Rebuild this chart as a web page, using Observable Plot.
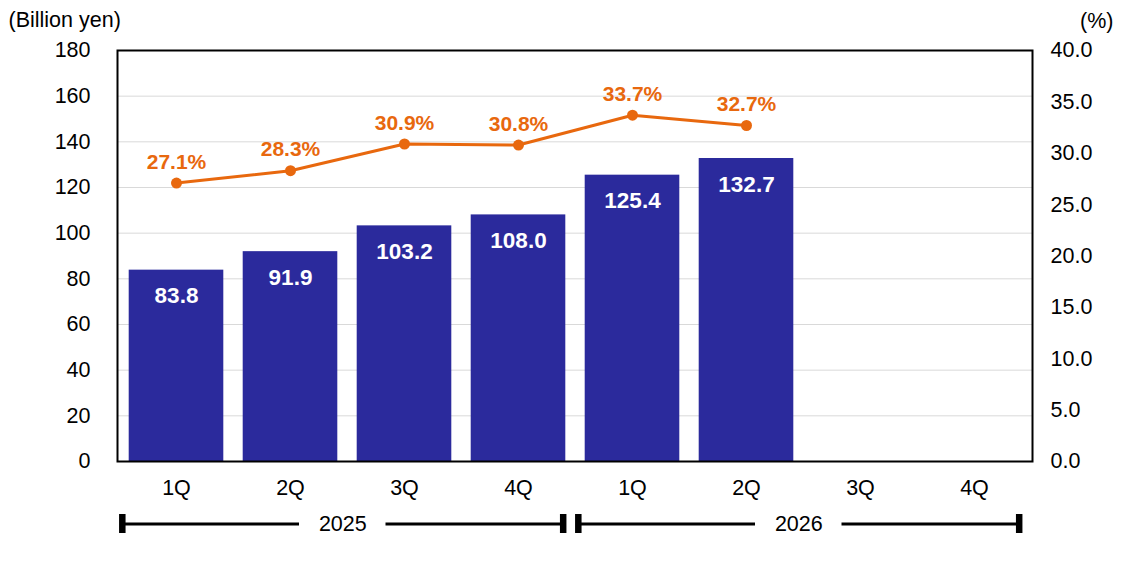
<!DOCTYPE html>
<html>
<head>
<meta charset="utf-8">
<script src="https://cdn.jsdelivr.net/npm/d3@7"></script>
<script src="https://cdn.jsdelivr.net/npm/@observablehq/plot@0.6"></script>
<style>
  html, body { margin: 0; padding: 0; background: #fff; }
  #chart svg { display: block; }
</style>
</head>
<body>
<div id="chart"></div>
<script>
// ---- data ----
const fiscalYears = ["2025", "2026"];
const quarterLabels = ["1Q", "2Q", "3Q", "4Q"];
const sales = [83.8, 91.9, 103.2, 108.0, 125.4, 132.7];          // Billion yen (bars)
const ratio = [27.1, 28.3, 30.9, 30.8, 33.7, 32.7];              // % (line)
const leftTicks = [0, 20, 40, 60, 80, 100, 120, 140, 160, 180];
const rightTicks = [0, 5, 10, 15, 20, 25, 30, 35, 40];
const leftTitle = "(Billion yen)";
const rightTitle = "(%)";

// ---- derived ----
const keys = fiscalYears.flatMap(y => quarterLabels.map(q => `${y} ${q}`));
const rows = sales.map((v, i) => ({key: keys[i], sales: v, ratio: ratio[i]}));
const leftMax = leftTicks[leftTicks.length - 1];
const rightMax = rightTicks[rightTicks.length - 1];
const k = leftMax / rightMax; // map % onto the shared y scale
const yearRows = fiscalYears.map(y => ({
  year: y,
  q1: `${y} ${quarterLabels[0]}`,
  q2: `${y} ${quarterLabels[1]}`,
  q3: `${y} ${quarterLabels[2]}`,
  q4: `${y} ${quarterLabels[3]}`
}));

const FONT = "'Liberation Sans', Arial, 'DejaVu Sans', sans-serif";
const FS = 21.5;
const BAR = "#2B2A9C";
const ORANGE = "#E8680E";
const W = 1135, ML = 117, MR = 103;
const bw = (W - ML - MR) / keys.length;

const main = Plot.plot({
  width: W,
  height: 500,
  marginLeft: ML,
  marginRight: MR,
  marginTop: 50,
  marginBottom: 39,
  style: {fontFamily: FONT, fontSize: FS + "px", color: "#000", background: "#fff"},
  x: {type: "band", domain: keys, padding: 0, axis: null},
  y: {domain: [0, leftMax], axis: null},
  marks: [
    Plot.gridY(leftTicks.filter(t => t > 0 && t < leftMax), {stroke: "#d9d9d9", strokeOpacity: 1, strokeWidth: 1}),
    Plot.barY(rows, {x: "key", y: "sales", fill: BAR, insetLeft: 9.7, insetRight: 9.7}),
    Plot.frame({stroke: "#000", strokeWidth: 2}),
    Plot.axisY({anchor: "left", ticks: leftTicks, tickSize: 0, tickPadding: 27, label: null, fontSize: FS}),
    Plot.axisY({anchor: "right", ticks: rightTicks.map(v => v * k), tickFormat: d => (d / k).toFixed(1), tickSize: 0, tickPadding: 18, label: null, fontSize: FS}),
    Plot.axisX({anchor: "bottom", tickSize: 0, tickPadding: 18, tickFormat: d => d.split(" ")[1], label: null, fontSize: FS}),
    Plot.text(rows, {x: "key", y: "sales", text: d => d.sales.toFixed(1), fill: "#fff", fontWeight: "bold", fontSize: 22.5, dy: 26, lineAnchor: "middle"}),
    Plot.line(rows, {x: "key", y: d => d.ratio * k, stroke: ORANGE, strokeWidth: 3}),
    Plot.dot(rows, {x: "key", y: d => d.ratio * k, fill: ORANGE, r: 5.5}),
    Plot.text(rows, {x: "key", y: d => d.ratio * k, text: d => d.ratio.toFixed(1) + "%", fill: ORANGE, fontWeight: "bold", fontSize: 21, dy: -21, lineAnchor: "middle"}),
    Plot.text([leftTitle], {frameAnchor: "top-left", text: d => d, dx: -109, dy: -30, textAnchor: "start", lineAnchor: "middle", fontSize: FS}),
    Plot.text([rightTitle], {frameAnchor: "top-right", text: d => d, dx: 81, dy: -29, textAnchor: "end", lineAnchor: "middle", fontSize: FS})
  ]
});

const brackets = Plot.plot({
  width: W,
  height: 61,
  marginLeft: ML,
  marginRight: MR,
  marginTop: 14,
  marginBottom: 28,
  style: {fontFamily: FONT, fontSize: FS + "px", color: "#000", background: "#fff"},
  x: {type: "band", domain: keys, padding: 0, axis: null},
  y: {domain: [0, 1], axis: null},
  marks: [
    Plot.ruleY(yearRows, {x1: "q1", x2: "q2", y: () => 0.5, stroke: "#000", strokeWidth: 3, insetLeft: 3, insetRight: 48}),
    Plot.ruleY(yearRows, {x1: "q3", x2: "q4", y: () => 0.5, stroke: "#000", strokeWidth: 3, insetLeft: 38.5, insetRight: 12.5}),
    Plot.ruleX(yearRows, {x: "q1", dx: -bw / 2 + 3, stroke: "#000", strokeWidth: 6.5}),
    Plot.ruleX(yearRows, {x: "q4", dx: bw / 2 - 12.5, stroke: "#000", strokeWidth: 6.5}),
    Plot.text(yearRows, {x: "q3", y: () => 0.5, text: "year", dx: -bw / 2 - 4.5, lineAnchor: "middle", fontSize: FS})
  ]
});

const host = document.getElementById("chart");
host.appendChild(main);
host.appendChild(brackets);
</script>
</body>
</html>
